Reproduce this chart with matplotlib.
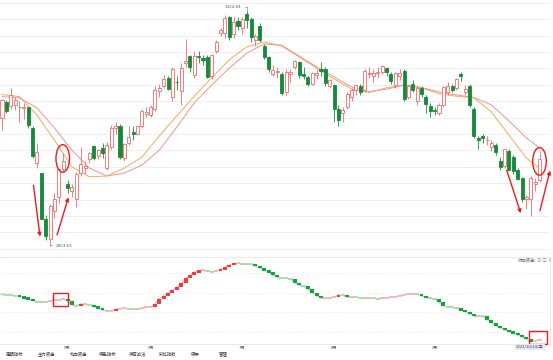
import numpy as np
import pandas as pd
import matplotlib
matplotlib.use('Agg')
import matplotlib.pyplot as plt
from matplotlib.patches import Rectangle, Ellipse

plt.rcParams['font.family'] = ['Noto Sans CJK SC', 'DejaVu Sans']

# trading calendar (Shanghai composite, 2022-04-12 .. 2022-10-14)
holidays = ['2022-05-02', '2022-05-03', '2022-05-04', '2022-06-03', '2022-09-12',
            '2022-10-03', '2022-10-04', '2022-10-05', '2022-10-06', '2022-10-07']
days = pd.bdate_range('2022-04-12', '2022-10-14')
days = days[~days.isin(pd.to_datetime(holidays))]

opens = [3168, 3208, 3197, 3200, 3195, 3193, 3194, 3145, 3061, 3036,
         2928, 2880, 2946, 2980, 3047, 3010, 2995, 2975, 3036, 3050,
         3070, 3102, 3078, 3098, 3050, 3100, 3145, 3150, 3072, 3110,
         3135, 3130, 3150, 3178, 3175, 3190, 3233, 3245, 3265, 3220,
         3256, 3233, 3300, 3316, 3272, 3318, 3312, 3315, 3270, 3330,
         3372, 3372, 3410, 3370, 3400, 3385, 3418, 3405, 3355, 3388,
         3342, 3315, 3275, 3280, 3275, 3230, 3275, 3290, 3302, 3275,
         3268, 3250, 3272, 3285, 3285, 3245, 3248, 3190, 3180, 3195,
         3220, 3235, 3245, 3235, 3275, 3270, 3277, 3280, 3288, 3275,
         3248, 3270, 3282, 3220, 3250, 3210, 3240, 3220, 3198, 3187,
         3180, 3200, 3232, 3245, 3240, 3275, 3230, 3245, 3190, 3120,
         3125, 3115, 3100, 3105, 3065, 3055, 3090, 3075, 3045, 3025,
         2975, 2975, 3010, 3020]
highs = [3215, 3211, 3240, 3220, 3210, 3205, 3196, 3150, 3108, 3037,
         2937, 2963, 2990, 3050, 3085, 3020, 3010, 3040, 3100, 3065,
         3088, 3105, 3095, 3110, 3112, 3152, 3160, 3155, 3110, 3150,
         3150, 3150, 3190, 3194, 3200, 3245, 3250, 3272, 3270, 3290,
         3270, 3300, 3358, 3320, 3330, 3330, 3320, 3320, 3322, 3355,
         3385, 3415, 3414, 3410, 3410, 3410, 3424.84, 3410, 3370, 3395,
         3345, 3318, 3295, 3290, 3280, 3285, 3285, 3307, 3305, 3290,
         3270, 3280, 3285, 3303, 3290, 3262, 3250, 3200, 3195, 3230,
         3240, 3250, 3250, 3285, 3290, 3285, 3290, 3295, 3292, 3280,
         3280, 3285, 3285, 3250, 3260, 3245, 3245, 3225, 3205, 3195,
         3205, 3245, 3255, 3250, 3265, 3280, 3248, 3250, 3195, 3125,
         3130, 3125, 3115, 3110, 3075, 3095, 3095, 3080, 3050, 3028,
         2985, 3030, 3025, 3090]
lows = [3140, 3180, 3190, 3189, 3160, 3167, 3146, 3073, 3050, 2926,
        2878, 2863.65, 2930, 2965, 3040, 2990, 2980, 2955, 3030, 3035,
        3060, 3068, 3070, 3072, 3045, 3095, 3130, 3070, 3065, 3105,
        3115, 3128, 3145, 3170, 3170, 3185, 3220, 3240, 3235, 3210,
        3235, 3200, 3290, 3280, 3265, 3300, 3295, 3265, 3262, 3325,
        3365, 3360, 3355, 3360, 3380, 3370, 3385, 3350, 3340, 3350,
        3310, 3280, 3270, 3265, 3225, 3225, 3255, 3285, 3265, 3262,
        3245, 3248, 3262, 3270, 3245, 3240, 3160, 3150, 3160, 3190,
        3210, 3225, 3225, 3232, 3265, 3255, 3265, 3275, 3270, 3250,
        3240, 3260, 3210, 3215, 3230, 3200, 3220, 3180, 3170, 3175,
        3175, 3195, 3225, 3230, 3235, 3258, 3225, 3195, 3120, 3095,
        3110, 3105, 3090, 3080, 3045, 3050, 3045, 3035, 3020, 2968,
        2950, 2935, 2995, 3015]
closes = [3213, 3186, 3225, 3211, 3196, 3194, 3151, 3079, 3087, 2928,
          2886, 2958, 2975, 3047, 3067, 3001, 3004, 3035, 3058, 3054,
          3084, 3073, 3093, 3086, 3105, 3146, 3150, 3075, 3107, 3123,
          3130, 3149, 3186, 3182, 3195, 3236, 3241, 3263, 3239, 3285,
          3255, 3289, 3305, 3290, 3317, 3315, 3307, 3267, 3320, 3350,
          3379, 3409, 3362, 3399, 3388, 3405, 3404, 3362, 3364, 3356,
          3314, 3285, 3284, 3282, 3228, 3278, 3279, 3305, 3272, 3270,
          3250, 3277, 3276, 3282, 3253, 3260, 3190, 3164, 3189, 3227,
          3236, 3248, 3230, 3282, 3277, 3276, 3278, 3293, 3278, 3258,
          3277, 3277, 3215, 3246, 3236, 3240, 3227, 3202, 3185, 3186,
          3200, 3243, 3246, 3236, 3262, 3270, 3238, 3200, 3126, 3116,
          3122, 3117, 3109, 3088, 3051, 3094, 3045, 3041, 3024, 2974,
          2980, 3026, 3016, 3071]

# moving-average lines, every 4th session
ma_days = list(range(0, 124, 4)) + [123]
ma_short = [3225, 3220, 3176, 3116, 3052, 3028, 3030, 3049, 3075, 3126, 3174,
            3221, 3265, 3308, 3339, 3351, 3341, 3315, 3288, 3262, 3238, 3230,
            3241, 3248, 3241, 3227, 3221, 3217, 3183, 3128, 3073, 3049]
ma_long = [3220, 3217, 3193, 3145, 3092, 3049, 3030, 3037, 3056, 3092, 3147,
           3205, 3248, 3288, 3324, 3346, 3343, 3317, 3291, 3267, 3243, 3232,
           3238, 3247, 3242, 3231, 3224, 3218, 3200, 3162, 3121, 3097]

# lower panel: cumulative fund-flow line (arbitrary units)
flow = [56, 55.5, 55, 54.5, 53.3, 52, 50.7, 49.3, 48.3, 47.7,
        48.3, 48.8, 49.7, 50.2, 50.8, 49, 45, 44.3, 45.7, 46,
        45, 43.3, 41.7, 40, 39, 39.3, 40.5, 41.5, 41.7, 41,
        40.7, 40.7, 41.7, 42.7, 43.3, 46.3, 51, 54.3, 57.3, 60,
        63, 66.7, 71.7, 75, 77.7, 79.3, 79.7, 79, 78.3, 79,
        80.7, 82.7, 85, 86.7, 86.7, 86, 86, 85.7, 84, 81.7,
        79.7, 77.7, 75, 72.7, 72.3, 71.7, 70.7, 67.3, 65, 64,
        60.7, 57.3, 54, 52.3, 52.3, 52.3, 53, 55, 54.7, 53.3,
        53.3, 52.7, 52.3, 52, 52.3, 51.7, 51, 51.7, 52.3, 52.7,
        53.3, 54.3, 55, 56, 56.3, 55.7, 54, 52.3, 51.7, 51,
        47.7, 44.3, 43.3, 42.7, 41.7, 39.7, 38.3, 36, 34.3, 34.3,
        33.7, 30.3, 27, 24, 22, 20, 18.3, 16.7, 15, 13,
        11, 8.3, 9.3, 10]

month_labels = ['5月', '6月', '7月', '8月', '9月']
tab_labels = ['周期指标', '主力资金', '北向资金', '特色指标', '神奇战法', '彩虹指数', '保存', '管理']

UP = '#f06a6a'
DOWN = '#17893a'
UP_LIGHT = '#f7b4b4'
DOWN_LIGHT = '#a6dab0'
FLOW_UP = '#f03c3c'
FLOW_DOWN = '#12a53a'
GRID = '#efefef'

W, H = 553, 360


def draw_candles(ax, o, h, l, c, width=0.7):
    for i in range(len(c)):
        col = UP if c[i] >= o[i] else DOWN
        lo_b, hi_b = min(o[i], c[i]), max(o[i], c[i])
        ax.vlines(i, hi_b, h[i], color=col, lw=0.6, zorder=3)
        ax.vlines(i, l[i], lo_b, color=col, lw=0.6, zorder=3)
        face = 'white' if c[i] >= o[i] else col
        ax.add_patch(Rectangle((i - width / 2, lo_b), width, max(hi_b - lo_b, 1.0),
                               facecolor=face, edgecolor=col, lw=0.6, zorder=4))


def draw_flow(ax, v):
    ax.hlines(v[0], -0.5, 0.5, color=UP_LIGHT, lw=1.0)
    for i in range(1, len(v)):
        d = v[i] - v[i - 1]
        light = UP_LIGHT if d >= 0 else DOWN_LIGHT
        ax.plot([i - 1, i], [v[i - 1], v[i]], color=light, lw=0.8, zorder=2)
        if abs(d) >= 1.2:
            col = FLOW_UP if d > 0 else FLOW_DOWN
            h = max(abs(d), 2.6)
            base = min(v[i], v[i - 1]) - (h - abs(d)) / 2
            ax.add_patch(Rectangle((i - 0.45, base), 0.9, h, facecolor=col,
                                   edgecolor='none', zorder=3))
        else:
            ax.hlines(v[i], i - 0.5, i + 0.5, color=light, lw=1.2, zorder=3)


def px_x(px):
    # horizontal pixel of the picture -> session index
    return (px - 2) / 4.37


fig = plt.figure(figsize=(W / 100, H / 100), dpi=100)
fig.patch.set_facecolor('white')

# ---- main candlestick panel
ax = fig.add_axes([0, 110 / H, 550 / W, 250 / H])
ax.set_xlim(px_x(0), px_x(550))
ax.set_ylim(2852.9, 3451.2)
for y in np.arange(3444.7, 2850, -39.25):
    ax.axhline(y, color=GRID, lw=0.7, zorder=0)
ax.axis('off')

draw_candles(ax, opens, highs, lows, closes)
ax.plot(ma_days, ma_short, color='#f4a95e', lw=0.7, zorder=2)
ax.plot(ma_days, ma_long, color='#f29393', lw=0.7, zorder=2)

i_hi = int(np.argmax(highs))
i_lo = int(np.argmin(lows))
ax.annotate(f'{highs[i_hi]:.2f}', xy=(i_hi, highs[i_hi]), xytext=(-3.5, 3),
            textcoords='offset points', ha='right', va='center', fontsize=3,
            color='#56677d', family='DejaVu Sans',
            arrowprops=dict(arrowstyle='-', color='#7d8ca0', lw=0.5,
                            connectionstyle='angle,angleA=0,angleB=90', shrinkA=0, shrinkB=0))
ax.annotate(f'{lows[i_lo]:.2f}', xy=(i_lo, lows[i_lo]), xytext=(4, 0),
            textcoords='offset points', ha='left', va='center', fontsize=3,
            color='#56677d', family='DejaVu Sans',
            arrowprops=dict(arrowstyle='-', color='#7d8ca0', lw=0.5, shrinkA=0, shrinkB=0))

# red hand-drawn marks
arrows = [((7.2, 3008), (8.7, 2885)), ((12.6, 2889), (15.2, 2979)),
          ((115.5, 3044), (118.7, 2941)), ((123.1, 2947), (125.4, 3043))]
for start, end in arrows:
    ax.annotate('', xy=end, xytext=start,
                arrowprops=dict(arrowstyle='-|>', color='#ee1c1c', lw=1.0,
                                mutation_scale=5, shrinkA=0, shrinkB=0), zorder=6)
for cx, cy in [(13.9, 3072), (123.0, 3065)]:
    ax.add_patch(Ellipse((cx, cy), 3.1, 66, facecolor='none', edgecolor='#ee1c1c',
                         lw=1.0, zorder=6))

# ---- lower fund-flow panel
ax2 = fig.add_axes([0, 16 / H, 550 / W, 87 / H])
ax2.set_xlim(px_x(0), px_x(550))
ax2.set_ylim(6, 93)
for y in np.arange(77, 10, -19.7):
    ax2.axhline(y, color='#e2e2e2', lw=0.6, ls=(0, (1, 2)), zorder=0)
ax2.spines['left'].set_visible(False)
for side in ['top', 'right', 'bottom']:
    ax2.spines[side].set_color('#e6e6e6')
    ax2.spines[side].set_linewidth(0.6)
ax2.set_yticks([])
draw_flow(ax2, flow)

month_idx = [int(np.argmax(days.month == m)) + 1 for m in [5, 6, 7, 8, 9]]
ax2.set_xticks(month_idx)
ax2.set_xticklabels(month_labels, fontsize=3, color='#555555')
ax2.tick_params(axis='x', length=0, pad=1.2)

for x0, x1, y0, y1 in [(11.7, 15.2, 44, 56.7), (120.7, 124.8, 6, 19)]:
    ax2.add_patch(Rectangle((x0, y0), x1 - x0, y1 - y0, facecolor='none',
                            edgecolor='#ee1c1c', lw=1.0, zorder=6, clip_on=False))

fig.text(535 / W, 1 - 260 / H, '流向资金', ha='right', va='center', fontsize=3.2, color='#666666')
fig.text(537 / W, 1 - 260 / H, '⊙ ⓘ ×', ha='left', va='center', fontsize=3.2,
         color='#888888')
fig.text(530 / W, 1 - 347 / H, '2022/10/14/五', ha='center', va='center', fontsize=3,
         color='#444444',
         bbox=dict(boxstyle='square,pad=0.25', facecolor='#e4eaf3', edgecolor='none'))

tab_x = [15, 47, 79, 108, 138, 168, 195, 223]
for x, t in zip(tab_x, tab_labels):
    fig.text(x / W, 1 - 354 / H, t, ha='center', va='center', fontsize=3.2, color='#333333')

fig.savefig('out.png', dpi=100, facecolor='white')
